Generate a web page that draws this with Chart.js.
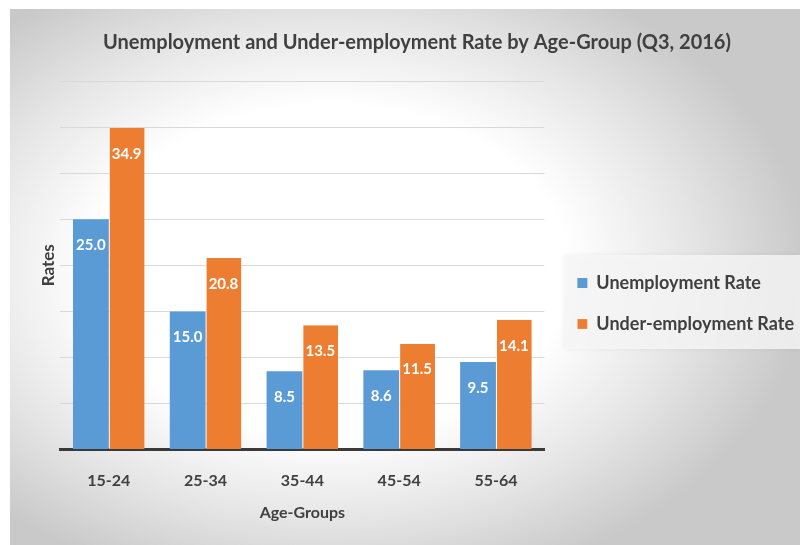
<!DOCTYPE html>
<html>
<head>
<meta charset="utf-8">
<script src="https://cdn.jsdelivr.net/npm/chart.js@4.4.1/dist/chart.umd.min.js"></script>
<style>
    html, body { margin: 0; padding: 0; background: #fff; }
</style>
</head>
<body>
<canvas id="graficaDesempleo" width="800" height="545"></canvas>
<script>
// Datos
const gruposEdad = ['15-24', '25-34', '35-44', '45-54', '55-64'];
const tasaDesempleo = [25.0, 15.0, 8.5, 8.6, 9.5];
const tasaSubempleo = [34.9, 20.8, 13.5, 11.5, 14.1];
const nombresSeries = ['Unemployment Rate', 'Under-employment Rate'];
const rangoY = [0, 40];
const pasoY = 5;

const FUENTE = 'Lato';
const GRIS_TEXTO = '#404040';

// Fondo degradado + caja de la leyenda
const pluginFondo = {
    id: 'fondo',
    beforeDraw(chart) {
        const { ctx, width, height } = chart;
        ctx.save();
        ctx.fillStyle = '#ffffff';
        ctx.fillRect(0, 0, width, height);

        // degradado elíptico: blanco en el centro del gráfico, gris hacia los bordes
        ctx.save();
        ctx.beginPath();
        ctx.rect(10, 9, width - 10, height - 9);
        ctx.clip();
        ctx.translate(330, 270);
        ctx.scale(1.45, 1);
        const g = ctx.createRadialGradient(0, 0, 0, 0, 0, 330);
        g.addColorStop(0, '#ffffff');
        g.addColorStop(0.5, '#ffffff');
        g.addColorStop(0.75, '#e6e6e6');
        g.addColorStop(1, '#c9c9c9');
        ctx.fillStyle = g;
        ctx.fillRect(-400, -400, 800, 800);
        ctx.restore();

        const leyenda = chart.legend;
        const cajas = leyenda.legendHitBoxes;
        if (cajas && cajas.length) {
            const ultima = cajas[cajas.length - 1];
            const arriba = cajas[0].top - 19;
            const abajo = ultima.top + ultima.height + 16;
            ctx.shadowColor = 'rgba(0,0,0,0.08)';
            ctx.shadowBlur = 5;
            ctx.fillStyle = 'rgba(248,248,248,0.8)';
            ctx.fillRect(leyenda.left + 10, arriba, width - leyenda.left - 10, abajo - arriba);
        }
        ctx.restore();
    }
};

// Valores en blanco dentro de cada barra
const pluginEtiquetas = {
    id: 'etiquetas',
    afterDatasetsDraw(chart) {
        const { ctx } = chart;
        ctx.save();
        ctx.font = `bold 15px ${FUENTE}`;
        ctx.fillStyle = '#ffffff';
        ctx.textAlign = 'center';
        ctx.textBaseline = 'middle';
        chart.data.datasets.forEach((ds, i) => {
            chart.getDatasetMeta(i).data.forEach((barra, j) => {
                ctx.fillText(ds.data[j].toFixed(1), barra.x, barra.y + 26);
            });
        });
        ctx.restore();
    }
};

const ctx = document.getElementById('graficaDesempleo').getContext('2d');
new Chart(ctx, {
    type: 'bar',
    data: {
        labels: gruposEdad,
        datasets: [
            { label: nombresSeries[0], data: tasaDesempleo, backgroundColor: '#5b9bd5', borderWidth: 0 },
            { label: nombresSeries[1], data: tasaSubempleo, backgroundColor: '#ed7d31',
              borderColor: 'rgba(255,255,255,0.9)', borderWidth: { left: 1, top: 0, right: 0, bottom: 0 } }
        ]
    },
    options: {
        responsive: false,
        devicePixelRatio: 1,
        animation: false,
        layout: { padding: { left: 30, right: -4, top: 0, bottom: 10 } },
        datasets: { bar: { categoryPercentage: 0.74, barPercentage: 1 } },
        plugins: {
            title: {
                display: true,
                text: 'Unemployment and Under-employment Rate by Age-Group (Q3, 2016)',
                color: GRIS_TEXTO,
                font: { family: FUENTE, size: 20, weight: 'bold' },
                padding: { top: 31, bottom: 26 }
            },
            legend: {
                position: 'right',
                maxWidth: 320,
                title: { display: true, text: '', padding: { top: 0, bottom: 57.6 } },
                labels: {
                    boxWidth: 10, boxHeight: 10, padding: 23,
                    color: GRIS_TEXTO,
                    font: { family: FUENTE, size: 18, weight: 'bold' }
                }
            },
            tooltip: { enabled: false }
        },
        scales: {
            x: {
                grid: { display: false, drawTicks: false },
                border: { color: '#3a3a3a', width: 3 },
                ticks: { padding: 22, color: GRIS_TEXTO, font: { family: FUENTE, size: 16, weight: 'bold' } },
                title: { display: true, text: 'Age-Groups', color: GRIS_TEXTO,
                         font: { family: FUENTE, size: 16, weight: 'bold' }, padding: { top: -10, bottom: 13 } }
            },
            y: {
                min: rangoY[0], max: rangoY[1],
                ticks: { display: false, stepSize: pasoY },
                grid: { color: '#d9d9d9', drawTicks: false },
                border: { display: false },
                title: { display: true, text: 'Rates', color: GRIS_TEXTO,
                         font: { family: FUENTE, size: 17, weight: 'bold' }, padding: { top: 8, bottom: 2 } }
            },
            y2: {
                position: 'right',
                ticks: { display: false },
                grid: { display: false, drawTicks: false },
                border: { display: false },
                afterFit(escala) { escala.width = 10; }
            }
        }
    },
    plugins: [pluginFondo, pluginEtiquetas]
});
</script>
</body>
</html>
